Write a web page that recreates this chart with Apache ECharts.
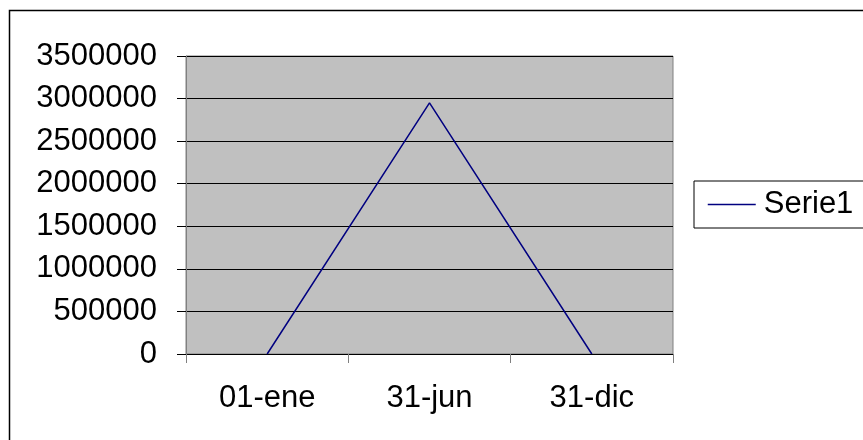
<!DOCTYPE html>
<html>
<head>
<meta charset="utf-8">
<script src="https://cdn.jsdelivr.net/npm/echarts@6/dist/echarts.min.js"></script>
<style>
  html, body { margin: 0; padding: 0; background: #fff; }
  #chart { width: 863px; height: 440px; }
</style>
</head>
<body>
<div id="chart"></div>
<script>
// Category labels along the horizontal axis
const categories = ['01-ene', '31-jun', '31-dic'];
// Values of the single series
const serie1 = [0, 2950000, 0];
// Value axis range and step
const yMin = 0;
const yMax = 3500000;
const yStep = 500000;

const FONT = '"Liberation Sans", Arial, sans-serif';

const chart = echarts.init(document.getElementById('chart'), null, { renderer: 'canvas' });

chart.setOption({
  animation: false,
  backgroundColor: '#ffffff',
  textStyle: { fontFamily: FONT },
  graphic: [
    {
      type: 'rect',
      shape: { x: 9.5, y: 10.5, width: 900, height: 500 },
      style: { fill: 'none', stroke: '#000000', lineWidth: 1.5 },
      silent: true,
      z: 0
    }
  ],
  grid: {
    left: 186, top: 56, width: 487, height: 298,
    show: true,
    backgroundColor: '#c0c0c0',
    borderColor: '#808080',
    borderWidth: 1
  },
  legend: {
    left: 694, top: 181,
    orient: 'vertical',
    padding: [8, 12, 8, 13],
    itemWidth: 48,
    itemHeight: 31,
    itemGap: 0,
    borderColor: '#000000',
    borderWidth: 1,
    backgroundColor: '#ffffff',
    itemStyle: { opacity: 0 },
    lineStyle: { color: '#000080', width: 1.5 },
    textStyle: { fontFamily: FONT, fontSize: 31, color: '#000000', padding: [0, 0, 0, 3] },
    data: ['Serie1']
  },
  xAxis: {
    type: 'category',
    data: categories,
    boundaryGap: true,
    axisLine: { show: true, lineStyle: { color: '#000000', width: 1 } },
    axisTick: { show: true, length: 9, lineStyle: { color: '#808080' } },
    axisLabel: { fontFamily: FONT, fontSize: 31, color: '#000000', margin: 29 },
    splitLine: { show: false }
  },
  yAxis: {
    type: 'value',
    min: yMin, max: yMax, interval: yStep,
    axisLine: { show: true, lineStyle: { color: '#808080', width: 1 } },
    axisTick: { show: true, length: 9, lineStyle: { color: '#000000' } },
    axisLabel: {
      fontFamily: FONT, fontSize: 31, color: '#000000', margin: 29,
      formatter: (v) => String(v)
    },
    splitLine: { show: true, lineStyle: { color: '#000000', width: 1 } }
  },
  series: [
    {
      name: 'Serie1',
      type: 'line',
      data: serie1,
      symbol: 'none',
      showSymbol: false,
      lineStyle: { color: '#000080', width: 1.5 },
      itemStyle: { color: '#000080' }
    }
  ]
});
</script>
</body>
</html>
